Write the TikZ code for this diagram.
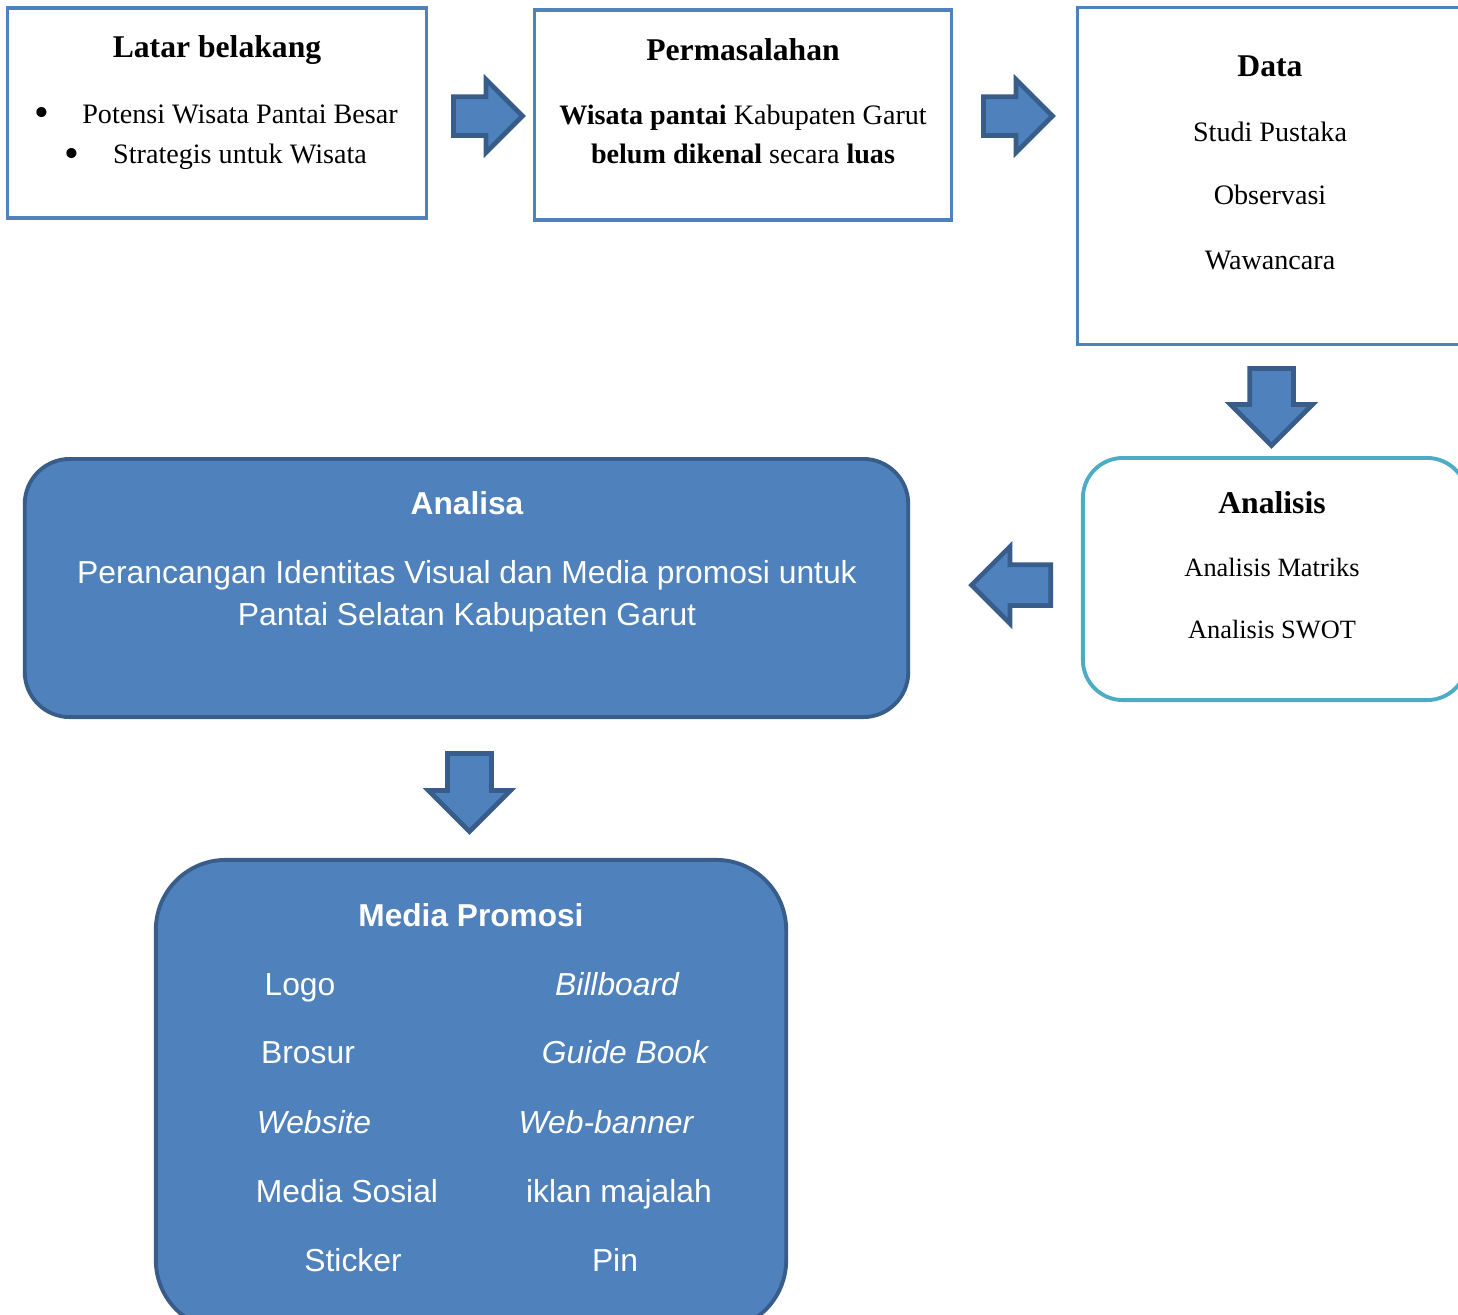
\documentclass[tikz,border=0pt]{standalone}
\usepackage{fontspec}
\setmainfont{Liberation Serif}
\setsansfont{Liberation Sans}
\usetikzlibrary{%
  shapes.arrows,
  positioning
}
\definecolor{boxline}{HTML}{4F81BD}
\definecolor{boxfill}{HTML}{4F81BD}
\definecolor{darkline}{HTML}{385D8A}
\definecolor{cyanline}{HTML}{4BACC6}

\tikzset{
  plainbox/.style={draw=boxline, line width=0.9pt, rectangle, inner sep=0pt},
  roundbox/.style={draw=cyanline, line width=1.1pt, rectangle, rounded corners=0.4cm, inner sep=0pt},
  bluebox/.style={draw=darkline, fill=boxfill, line width=1.1pt, rectangle, inner sep=0pt},
  blockarr/.style={single arrow, draw=darkline, fill=boxfill, line width=1.35pt, anchor=tail,
    inner sep=0.18cm, single arrow head extend=0.18cm, minimum width=0.72cm, minimum height=0.76cm},
  serif/.style={font=\fontsize{8}{10}\selectfont, inner sep=0pt},
  serifhead/.style={font=\fontsize{9}{11}\selectfont\bfseries, inner sep=0pt},
  sans/.style={font=\sffamily\fontsize{9.05}{11}\selectfont, text=white, inner sep=0pt},
  sanshead/.style={font=\sffamily\fontsize{9}{11}\selectfont\bfseries, text=white, inner sep=0pt}
}

\begin{document}
\begin{tikzpicture}[x=0.01cm, y=-0.01cm]
  \useasboundingbox (0,0) rectangle (1458,1314) ;
  \clip (0,0) rectangle (1458,1314) ;

  % top row
  \node [plainbox, minimum width=4.18cm, minimum height=2.10cm] (latar)   at (217,113) {} ;
  \node [plainbox, minimum width=4.16cm, minimum height=2.10cm] (masalah) at (743,115) {} ;
  \node [plainbox, minimum width=3.92cm, minimum height=3.36cm] (data)    at (1274,176) {} ;

  \node [serifhead] (latarT) at (217,50) {Latar belakang} ;
  \node [serif, font=\fontsize{12}{12}\selectfont] (bul1) at (42,117) {\textbullet} ;
  \node [serif] (pot)  at (240,114) {Potensi Wisata Pantai Besar} ;
  \node [serif, font=\fontsize{12}{12}\selectfont] (bul2) at (72,158) {\textbullet} ;
  \node [serif] (str)  at (240,157) {Strategis untuk Wisata} ;

  \node [serifhead] (masalahT) at (743,50) {Permasalahan} ;
  \node [serif] (mas1) at (743,118) {\textbf{Wisata pantai} Kabupaten Garut} ;
  \node [serif] (mas2) at (743,154) {\textbf{belum dikenal} secara \textbf{luas}} ;

  \node [serifhead] (dataT) at (1270,66) {Data} ;
  \node [serif] (studi) at (1270,132) {Studi Pustaka} ;
  \node [serif] (obs)   at (1270,195) {Observasi} ;
  \node [serif] (waw)   at (1270,260) {Wawancara} ;

  % middle row
  \node [roundbox, minimum width=3.84cm, minimum height=2.42cm] (analisis) at (1275,579) {} ;
  \node [serifhead] (analisisT) at (1272,503) {Analisis} ;
  \node [serif, font=\fontsize{7.5}{9}\selectfont] (matriks) at (1272,567) {Analisis Matriks} ;
  \node [serif, font=\fontsize{7.5}{9}\selectfont] (swot)    at (1272,630) {Analisis SWOT} ;

  \node [bluebox, rounded corners=0.45cm, minimum width=8.83cm, minimum height=2.58cm] (analisa) at (466.5,588) {} ;
  \node [sanshead] (analisaT) at (467,503) {Analisa} ;
  \node [sans] (ana1) at (467,575) {Perancangan Identitas Visual dan Media promosi untuk} ;
  \node [sans] (ana2) at (467,617) {Pantai Selatan Kabupaten Garut} ;

  % bottom box
  \node [bluebox, rounded corners=0.7cm, minimum width=6.30cm, minimum height=4.70cm] (media) at (471,1095) {} ;
  \node [sanshead] (mediaT) at (471,915) {Media Promosi} ;
  \node [sans] (logo)    at (300,988)  {Logo} ;
  \node [sans] (brosur)  at (308,1053) {Brosur} ;
  \node [sans] (web)     at (314,1122) {\itshape Website} ;
  \node [sans] (sosial)  at (347,1191) {Media Sosial} ;
  \node [sans] (sticker) at (353,1260) {Sticker} ;
  \node [sans] (bill)    at (617,984)  {\itshape Billboard} ;
  \node [sans] (guide)   at (625,1052) {\itshape Guide Book} ;
  \node [sans] (banner)  at (606,1122) {\itshape Web-banner} ;
  \node [sans] (iklan)   at (619,1194) {iklan majalah} ;
  \node [sans] (pin)     at (615,1260) {Pin} ;

  % block arrows
  \node [blockarr, minimum height=0.69cm, minimum width=0.68cm, inner sep=0.17cm, single arrow head extend=0.17cm] (arr1) at (451,116) {} ;
  \node [blockarr, minimum height=0.69cm, minimum width=0.68cm, inner sep=0.17cm, single arrow head extend=0.17cm] (arr2) at (981,116) {} ;
  \node [blockarr, shape border rotate=270, minimum height=0.77cm, minimum width=0.77cm, inner sep=0.195cm, single arrow head extend=0.19cm] (arr3) at (1271.5,366) {} ;
  \node [blockarr, shape border rotate=180, minimum height=0.79cm, minimum width=0.72cm, inner sep=0.18cm, single arrow head extend=0.18cm] (arr4) at (1053,585) {} ;
  \node [blockarr, shape border rotate=270, minimum height=0.78cm, minimum width=0.78cm, inner sep=0.195cm, single arrow head extend=0.19cm] (arr5) at (469.5,751) {} ;

\end{tikzpicture}
\end{document}
